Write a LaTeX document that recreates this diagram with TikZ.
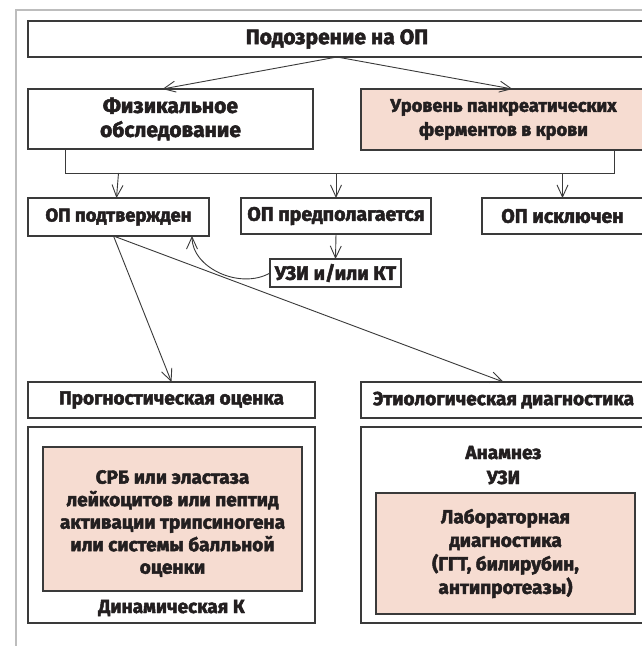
\documentclass[tikz,border=0pt]{standalone}
\usepackage{fontspec}
\setmainfont{Fira Sans}[BoldFeatures={FakeBold=2.5}]
\usetikzlibrary{arrows.meta}
\definecolor{linec}{HTML}{3A3A3A}
\definecolor{txtc}{HTML}{231F20}
\definecolor{pinkc}{HTML}{F6DCD1}
\definecolor{framec}{HTML}{BDBDBD}
\tikzset{
  box/.style={draw=linec, line width=1.3pt, fill=white, inner sep=0pt, outer sep=0pt, align=center, text=txtc},
  pinkbox/.style={box, fill=pinkc},
  lbl/.style={inner sep=0pt, outer sep=0pt, align=center, text=txtc},
  conn/.style={draw=linec, line width=0.9pt},
  arr/.style={conn, -{Straight Barb[length=12pt,width=11pt,line width=0.9pt]}},
  topf/.style={font=\bfseries\fontsize{21}{24}\selectfont},
  physf/.style={font=\bfseries\fontsize{21}{24}\selectfont},
  enzf/.style={font=\bfseries\fontsize{18.2}{24}\selectfont},
  big/.style={font=\bfseries\fontsize{19.5}{24}\selectfont},
  conff/.style={font=\bfseries\fontsize{18.5}{24}\selectfont},
  mid/.style={font=\bfseries\fontsize{19}{22.5}\selectfont},
  midr/.style={font=\bfseries\fontsize{19}{23.5}\selectfont}
}
\begin{document}
\begin{tikzpicture}[x=1pt,y=-1pt]
\useasboundingbox (0,0) rectangle (642,646);
\clip (0,0) rectangle (642,646);
\fill[white] (0,0) rectangle (642,646);
% outer grey frame
\draw[framec, line width=2pt] (16,660) -- (16,10) -- (660,10);

% top
\node[box, topf, minimum width=618pt, minimum height=36pt] (top) at (337,39) {Подозрение на ОП};
\node[box, physf, minimum width=285pt, minimum height=60pt] (phys) at (170.5,119) {Физикальное\\обследование};
\node[pinkbox, enzf, minimum width=285pt, minimum height=61pt] (enz) at (503.5,119.5) {Уровень панкреатических\\ферментов в крови};

\draw[arr] (top.south) -- ([xshift=-8pt]phys.north);
\draw[arr] (top.south) -- ([xshift=9pt]enz.north);

% bus
\coordinate (b1) at (65,173);
\coordinate (b2) at (614,173);

\node[box, conff, minimum width=181pt, minimum height=38pt] (conf) at (118.5,217) {ОП подтвержден};
\node[box, big, minimum width=190pt, minimum height=36pt] (susp) at (336,216) {ОП предполагается};
\node[box, big, minimum width=161pt, minimum height=36pt] (excl) at (562.5,216) {ОП исключен};
\node[box, big, minimum width=131pt, minimum height=28pt] (uzi) at (335.5,273) {УЗИ и/или КТ};

\draw[conn] (b1 |- phys.south) -- (b1) -- (b2) -- (b2 |- enz.south);
\draw[arr] (conf.north |- b1) -- ([xshift=-2pt]conf.north);
\draw[arr] (susp.north |- b1) -- (susp.north);
\draw[arr] (excl.north |- b1) -- (excl.north);
\draw[arr] (susp.south) -- (uzi.north);
\draw[arr] (uzi.west) .. controls (240,290) and (192,268) .. ([xshift=-17pt]conf.south east);

% lower left
\node[box, mid, minimum width=287pt, minimum height=36pt] (progn) at (171.5,400) {Прогностическая оценка};
\node[box, minimum width=287pt, minimum height=196pt] (lout) at (171.5,525) {};
\node[pinkbox, minimum width=259pt, minimum height=144pt] (lpink) at (172.5,519) {};
\node[lbl, mid] (lpinkt) at (172.5,523.5) {СРБ или эластаза\\лейкоцитов или пептид\\активации трипсиногена\\или системы балльной\\оценки};
\node[lbl, mid, anchor=base] (dyn) at (171.5,613) {Динамическая К};

% lower right
\node[box, mid, minimum width=285pt, minimum height=36pt] (etio) at (503.5,400) {Этиологическая диагностика};
\node[box, minimum width=285pt, minimum height=196pt] (rout) at (503.5,525) {};
\node[lbl, mid, anchor=base] (anam) at (503.5,459) {Анамнез};
\node[lbl, mid, anchor=base] (uzi2) at (503.5,484) {УЗИ};
\node[pinkbox, midr, minimum width=259pt, minimum height=121pt] (rpink) at (505.5,553.5) {Лабораторная\\диагностика\\(ГГТ, билирубин,\\антипротеазы)};

\draw[arr] ([xshift=-5pt]conf.south) -- (progn.north);
\draw[arr] ([xshift=-5pt]conf.south) -- (etio.north);
\end{tikzpicture}
\end{document}
